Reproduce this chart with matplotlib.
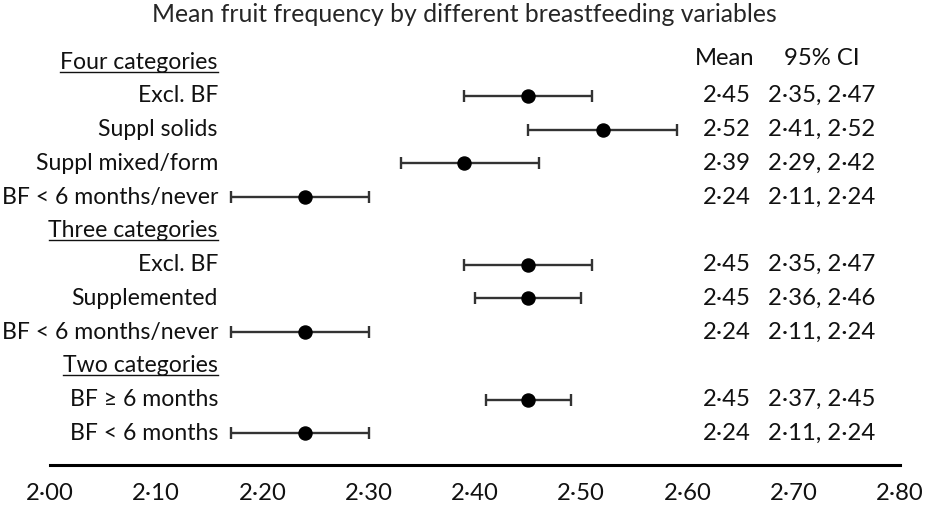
import matplotlib
matplotlib.use("Agg")
import matplotlib.pyplot as plt
from matplotlib.lines import Line2D

plt.rcParams['font.family'] = ['Lato', 'DejaVu Sans']

# rows, top to bottom (None = group header)
labels = ["Four categories", "Excl. BF", "Suppl solids", "Suppl mixed/form",
          "BF < 6 months/never", "Three categories", "Excl. BF", "Supplemented",
          "BF < 6 months/never", "Two categories", "BF \u2265 6 months", "BF < 6 months"]
is_header = [True, False, False, False, False, True, False, False, False, True, False, False]
means = [None, 2.45, 2.52, 2.39, 2.24, None, 2.45, 2.45, 2.24, None, 2.45, 2.24]
bar_lo = [None, 2.39, 2.45, 2.33, 2.17, None, 2.39, 2.40, 2.17, None, 2.41, 2.17]
bar_hi = [None, 2.51, 2.59, 2.46, 2.30, None, 2.51, 2.50, 2.30, None, 2.49, 2.30]
ci_text = [None, "2·35, 2·47", "2·41, 2·52", "2·29, 2·42", "2·11, 2·24", None,
           "2·35, 2·47", "2·36, 2·46", "2·11, 2·24", None, "2·37, 2·45", "2·11, 2·24"]
xticks = [2.00, 2.10, 2.20, 2.30, 2.40, 2.50, 2.60, 2.70, 2.80]

def fmt(v):
    return ("%.2f" % v).replace('.', '·')

W, H = 926, 507
fig = plt.figure(figsize=(W / 100, H / 100), dpi=100)
# axes: x 50..900 px, y 40..465 px (from top)
ax = fig.add_axes([50 / W, (H - 465) / H, 850 / W, 425 / H])
ax.set_xlim(2.0, 2.8)
ax.set_ylim(11.94, -0.652)

txt_col = '#111111'
fs = 16.6
fn = 17.2
for i, lab in enumerate(labels):
    t = ax.text(2.158, i, lab, ha='right', va='center', fontsize=fs, color=txt_col)
    if is_header[i]:
        t.set_gid('hdr')
    if means[i] is None:
        continue
    m = means[i]
    ax.errorbar([m], [i], xerr=[[m - bar_lo[i]], [bar_hi[i] - m]], fmt='o',
                color='black', ecolor='#333333', elinewidth=1.7, capsize=4.3,
                capthick=1.7, markersize=9.4, zorder=3)
    ax.text(2.637, i, fmt(m), ha='center', va='center', fontsize=fn, color=txt_col)
    ax.text(2.7266, i, ci_text[i], ha='center', va='center', fontsize=fn, color=txt_col)

ax.text(2.635, -0.1, "Mean", ha='center', va='center', fontsize=fn, color=txt_col)
ax.text(2.7266, -0.1, "95% CI", ha='center', va='center', fontsize=fn, color=txt_col)

ax.set_xticks(xticks)
ax.set_xticklabels([fmt(v) for v in xticks], fontsize=fn, color=txt_col)
ax.tick_params(axis='x', length=0, pad=13)
ax.set_yticks([])
for s in ['top', 'left', 'right']:
    ax.spines[s].set_visible(False)
ax.spines['bottom'].set_linewidth(2.2)
ax.spines['bottom'].set_color('black')

fig.text(464 / W, 1 - 14 / H, "Mean fruit frequency by different breastfeeding variables",
         ha='center', va='center', fontsize=17.8, color='#262626')

# underline the group headers
fig.canvas.draw()
r = fig.canvas.get_renderer()
for t in ax.texts:
    if t.get_gid() == 'hdr':
        bb = t.get_window_extent(r)
        y = bb.y0 + 1
        fig.add_artist(Line2D([bb.x0 / W, bb.x1 / W], [y / H, y / H],
                              transform=fig.transFigure, color=txt_col, lw=1.0))

fig.savefig("out.png", dpi=100)
